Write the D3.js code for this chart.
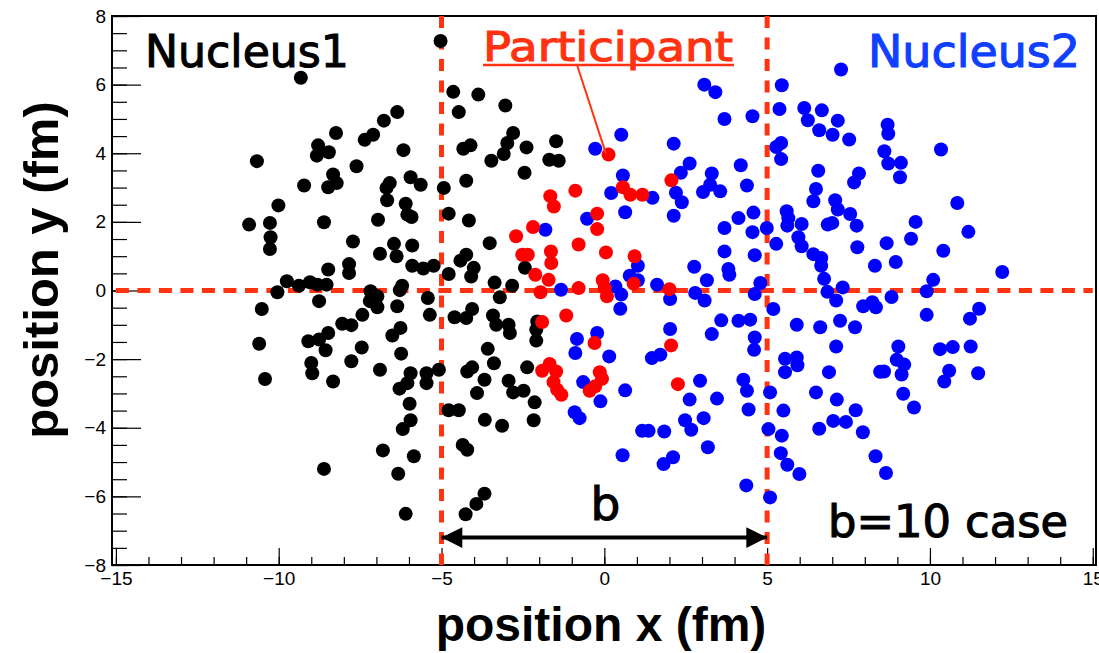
<!DOCTYPE html>
<html><head><meta charset="utf-8">
<script src="https://cdn.jsdelivr.net/npm/d3@7"></script>
<style>body{margin:0;background:#fff}svg{display:block}</style>
</head><body><svg id="c" width="1099" height="653"></svg>
<script>
// ---- data (fm) ----
const nucleus1 = [
[-5.03,7.27],[-9.32,6.20],[-4.64,5.79],[-3.87,5.71],[-4.47,5.20],[-6.36,5.20],[-6.77,4.95],[-7.10,4.54],[-7.36,4.39],[-8.24,4.59],
[-8.79,4.23],[-8.46,4.03],[-8.83,3.93],[-10.67,3.77],[-7.61,3.62],[-6.17,4.09],[-4.33,4.13],[-4.11,4.23],[-3.47,3.78],[-8.33,3.38],
[-8.22,3.13],[-8.48,3.01],[-9.22,3.06],[-5.95,3.30],[-5.64,3.08],[-6.59,3.13],[-6.69,2.99],[-4.93,2.99],[-4.24,3.20],[-3.04,5.39],
[-2.80,4.59],[-2.98,4.30],[-3.09,3.98],[-2.39,4.17],[-1.48,4.35],[-1.69,3.81],[-1.40,3.78],[-2.45,3.43],
[-10.01,2.48],[-10.91,1.92],[-10.27,1.97],[-10.25,1.55],[-10.27,1.21],[-8.61,1.99],[-6.67,2.63],[-6.10,2.53],[-6.05,2.21],[-5.92,2.14],
[-6.95,2.06],[-4.78,2.24],[-4.16,2.04],[-7.72,1.43],[-6.46,1.36],[-5.90,1.31],[-6.89,1.07],[-6.38,1.00],[-3.52,1.38],[-4.24,1.04],
[-4.42,0.87],[-4.01,0.66],[-4.09,0.41],[-4.78,0.48],[-5.90,0.72],[-5.56,0.64],[-5.24,0.72],[-7.84,0.77],[-7.84,0.51],[-8.48,0.61],
[-9.75,0.27],[-9.38,0.14],[-10.04,-0.05],[-9.04,0.24],[-8.81,0.17],[-8.53,0.17],[-8.76,-0.31],[-10.52,-0.54],[-7.18,-0.02],[-6.97,-0.17],
[-7.20,-0.31],[-6.97,-0.49],[-6.21,0.14],[-6.28,0.01],[-6.36,-0.46],[-5.42,-0.22],[-5.36,-0.71],[-7.43,-0.71],[-8.05,-0.97],[-7.77,-1.01],
[-8.48,-1.24],[-8.76,-1.43],[-9.09,-1.48],[-8.56,-1.74],[-10.60,-1.55],[-6.26,-1.09],[-6.51,-1.31],[-7.45,-1.66],[-6.24,-1.84],[-4.60,-0.78],
[-4.24,-0.80],[-4.06,-0.54],[-3.42,-0.73],[-3.32,-1.00],[-3.58,-1.70],[-3.37,0.23],
[-2.44,0.66],[-2.83,0.14],[-3.21,-0.20],[-2.94,-1.00],[-2.90,-1.24],[-2.06,-0.90],[-2.09,-1.14],[-2.09,-1.46],
[-3.39,-2.12],[-2.37,-2.24],[-2.94,-2.63],[-2.80,-2.97],[-2.48,-2.92],[-2.14,-3.26],[-2.17,-3.78],[-3.14,-3.94],
[-9.00,-2.11],[-8.97,-2.41],[-7.77,-2.06],[-10.42,-2.58],[-8.33,-2.65],[-6.89,-2.31],[-5.95,-2.41],[-6.05,-2.70],[-6.29,-2.86],[-5.46,-2.41],
[-5.46,-2.70],[-5.08,-2.31],[-4.21,-2.36],[-4.06,-2.24],[-3.68,-2.60],[-3.91,-2.99],[-5.98,-3.30],[-4.78,-3.49],[-4.47,-3.49],[-3.67,-3.77],
[-5.95,-3.78],[-6.19,-4.04],[-4.35,-4.50],[-4.21,-4.64],[-6.80,-4.66],[-5.85,-4.83],[-8.61,-5.20],[-6.33,-5.34],[-3.68,-5.92],[-3.93,-6.22],
[-4.26,-6.52],[-6.10,-6.51]
];
const nucleus2 = [
[3.07,6.00],[3.41,5.78],[3.69,5.00],[4.55,5.08],[0.52,4.54],[-0.28,4.13],[2.13,4.28],[2.62,3.70],[2.35,3.43],[3.30,3.41],
[4.19,3.65],[4.38,3.06],[0.57,3.35],[3.25,3.08],[3.56,2.89],[3.03,2.87],[2.20,2.85],[0.21,2.84],[1.48,2.70],
[7.27,6.44],[5.45,5.98],[5.38,5.29],[6.14,5.32],[6.68,5.25],[6.25,4.96],[7.17,4.95],[6.60,4.67],[7.01,4.54],[7.52,4.40],
[8.70,4.83],[8.72,4.57],[5.43,4.30],[5.28,4.18],[5.43,3.83],[8.60,4.06],[8.72,3.70],[9.11,3.72],[9.08,3.30],[10.34,4.11],
[6.57,3.49],[7.82,3.41],[7.67,3.15],[6.50,2.96],
[-1.81,1.77],[-0.53,2.09],[0.64,2.28],[2.13,2.18],[2.38,2.57],[4.12,2.11],[3.69,1.82],[4.58,2.27],[4.55,1.70],[3.69,1.14],
[3.81,0.63],[3.84,0.46],[2.76,0.69],[3.15,0.30],[2.79,-0.07],[3.08,-0.29],[1.03,0.72],[0.78,0.43],[1.03,0.30],[0.34,0.12],
[0.52,-0.12],[0.49,-0.53],[1.62,0.17],[2.02,-0.25],[-1.33,0.02],[4.62,1.03],[4.62,-0.10],[3.59,-0.87],[4.12,-0.88],[4.48,-0.85],
[3.30,-1.27],[4.62,-1.37],[4.60,-1.73],[2.02,-1.12],[-0.22,-1.24],[-0.84,-1.41],[-0.89,-1.82],[0.15,-1.92],[1.46,-1.97],[1.72,-1.87],
[4.99,1.82],[5.60,2.31],[5.65,2.11],[5.62,1.89],[6.06,1.94],[6.42,2.60],[7.09,2.63],[7.17,2.36],[7.55,2.23],[6.86,1.92],
[7.00,1.97],[7.75,1.89],[5.96,1.55],[6.06,1.29],[5.28,1.36],[6.42,1.06],[6.66,0.95],[6.66,0.72],[6.75,0.34],[6.85,-0.04],
[7.12,-0.29],[7.32,0.09],[7.77,1.26],[8.31,0.72],[8.67,1.38],[8.95,0.83],[9.42,1.51],[9.56,2.00],[10.84,2.55],[11.18,1.71],
[10.41,1.16],[12.22,0.54],[10.10,0.31],[9.90,-0.02],[8.82,-0.19],[7.95,-0.46],[8.23,-0.34],[8.34,-0.49],[9.90,-0.71],[11.23,-0.82],
[11.51,-0.53],[4.79,0.22],[5.19,-0.54],[5.91,-1.00],[6.63,-1.07],[7.24,-0.88],[7.70,-1.07],[7.12,-1.63],[9.03,-1.63],[10.31,-1.71],
[10.70,-1.65],[11.25,-1.63],[5.55,-1.99],[5.91,-1.95],
[5.93,-2.18],[5.55,-2.38],[6.90,-2.38],[8.47,-2.37],[8.59,-2.36],[8.98,-2.02],[9.21,-2.16],[9.13,-2.45],[10.59,-2.34],[10.44,-2.65],
[11.48,-2.41],[5.09,-2.97],[6.50,-2.97],[7.14,-3.18],[9.18,-3.01],[9.51,-3.41],[5.50,-3.50],[7.72,-3.49],[7.03,-3.80],[7.42,-3.83],
[6.60,-4.03],[7.94,-4.13],[5.04,-4.04],[5.45,-4.23],[5.42,-4.74],[5.62,-5.08],[5.99,-5.35],[8.33,-4.83],[8.65,-5.32],[5.09,-6.03],
[-0.65,-2.67],[-0.12,-3.23],[-0.91,-3.55],[-0.76,-3.72],[0.64,-2.91],[2.94,-2.63],[2.62,-3.18],[3.46,-3.15],[3.05,-3.72],[2.48,-3.78],
[2.67,-4.06],[1.16,-4.09],[1.36,-4.09],[1.84,-4.11],[3.18,-4.57],[2.11,-4.86],[1.82,-5.06],[0.56,-4.80],[4.27,-2.60],[4.38,-2.92],
[4.43,-3.47],[4.36,-5.68]
];
const participant = [
[0.13,3.96],[2.06,3.21],[0.57,3.01],[0.80,2.79],[1.17,2.79],[-0.89,2.91],[-1.66,2.75],[-1.55,2.45],[-0.22,2.24],[-0.22,1.79],
[-2.19,1.85],[-2.71,1.58],[-0.79,1.34],[-1.64,1.14],[-1.63,0.80],[-2.52,1.04],[-2.35,1.04],[-2.12,0.46],[-1.71,0.31],[-1.96,-0.05],
[0.05,1.11],[0.93,1.00],[-0.79,0.07],[-0.05,0.30],[0.01,0.07],[0.08,-0.17],[0.90,0.20],[2.00,0.04],[-1.17,-0.73],[-1.91,-0.92],
[-0.30,-1.53],[2.05,-1.60],[-1.91,-2.34],[-1.68,-2.14],[-1.48,-2.36],[-1.56,-2.67],[-1.45,-2.89],[-1.32,-3.04],[-0.14,-2.38],[-0.07,-2.57],
[-0.28,-2.79],[-0.45,-2.92],[2.26,-2.73]
];
const xLabelTicks = [-15,-10,-5,0,5,10,15];
const yLabelTicks = [-8,-6,-4,-2,0,2,4,6,8];
const nucleusCenters = [-5, 5];     // x positions of the two nuclei (impact parameter b = 10)
const arrowY = -7.2;
const leader = [[-0.83,6.55],[0.05,3.99]];

// ---- scales ----
const svg = d3.select("#c");
const x = d3.scaleLinear().domain([-15.12, 15.1]).range([112, 1096]);
const y = d3.scaleLinear().domain([-8, 8]).range([565, 16]);
const RED = "#ff3311", TICKF = "'Liberation Sans', Arial, Helvetica, sans-serif", ANN = "'DejaVu Sans', sans-serif";

// axes
const gx = svg.append("g").attr("transform", `translate(0,${y(-8)})`);
gx.call(d3.axisBottom(x).tickValues(d3.range(-15, 15.01, 1)).tickSize(-8).tickFormat(""));
gx.call(g => g.select(".domain").remove());
const gx2 = svg.append("g").attr("transform", `translate(0,${y(-8)})`);
gx2.call(d3.axisBottom(x).tickValues(xLabelTicks).tickSize(-17).tickPadding(7).tickFormat(d3.format("d")));
gx2.select(".domain").remove();
const gy = svg.append("g").attr("transform", `translate(${x.range()[0]},0)`);
gy.call(d3.axisLeft(y).tickValues(d3.range(-8, 8.01, 0.5)).tickSize(-15).tickFormat(""));
gy.select(".domain").remove();
const gy2 = svg.append("g").attr("transform", `translate(${x.range()[0]},0)`);
gy2.call(d3.axisLeft(y).tickValues(yLabelTicks).tickSize(-29).tickPadding(6).tickFormat(d3.format("d")));
gy2.select(".domain").remove();
svg.selectAll(".tick line").attr("stroke", "#000").attr("stroke-width", 1.2);
svg.selectAll(".tick text").attr("font-family", TICKF).attr("font-size", 19).attr("fill", "#000");

// frame
svg.append("rect").attr("x", 112).attr("y", 16).attr("width", 1096 - 112).attr("height", 565 - 16)
  .attr("fill", "none").attr("stroke", "#000").attr("stroke-width", 2);

// axis titles
svg.append("text").attr("x", 601).attr("y", 641).attr("text-anchor", "middle")
  .attr("font-family", TICKF).attr("font-weight", "bold").attr("font-size", 48).text("position x (fm)");
svg.append("text").attr("transform", "translate(58,270) rotate(-90)").attr("text-anchor", "middle")
  .attr("font-family", TICKF).attr("font-weight", "bold").attr("font-size", 49).text("position y (fm)");

// dashed guide lines
svg.append("line").attr("x1", x(-15)).attr("x2", x(15)).attr("y1", y(0)).attr("y2", y(0))
  .attr("stroke", RED).attr("stroke-width", 5).attr("stroke-dasharray", "13 8.5");
svg.selectAll(".vdash").data(nucleusCenters).join("line").attr("class", "vdash")
  .attr("x1", d => x(d)).attr("x2", d => x(d)).attr("y1", y(8)).attr("y2", y(-8))
  .attr("stroke", RED).attr("stroke-width", 5).attr("stroke-dasharray", "12 9.5");

// points
function dots(data, color) {
  svg.append("g").selectAll("circle").data(data).join("circle")
    .attr("cx", d => x(d[0])).attr("cy", d => y(d[1])).attr("r", 7).attr("fill", color);
}
dots(nucleus1, "#000000");
dots(nucleus2, "#0000ff");
dots(participant, "#ff0000");

// arrow for b
const defs = svg.append("defs");
["s", "e"].forEach(k => {
  defs.append("marker").attr("id", "ah" + k).attr("viewBox", "0 0 10 10").attr("refX", 10).attr("refY", 5)
    .attr("markerWidth", 6).attr("markerHeight", 5.2).attr("markerUnits", "strokeWidth")
    .attr("orient", k === "s" ? "auto-start-reverse" : "auto")
    .append("path").attr("d", "M0,0 L10,5 L0,10 Z").attr("fill", "#000");
});
svg.append("line").attr("x1", x(nucleusCenters[0])).attr("x2", x(nucleusCenters[1]))
  .attr("y1", y(arrowY)).attr("y2", y(arrowY)).attr("stroke", "#000").attr("stroke-width", 4)
  .attr("marker-start", "url(#ahs)").attr("marker-end", "url(#ahe)");

// annotations (slight stroke to match the medium-weight lettering)
function ann(txt, xp, yp, size, len, color, anchor) {
  const t = svg.append("text").attr("x", xp).attr("y", yp).attr("font-family", ANN).attr("font-size", size)
    .attr("fill", color).attr("stroke", color).attr("stroke-width", 1.1).text(txt);
  if (len) t.attr("textLength", len).attr("lengthAdjust", "spacingAndGlyphs");
  if (anchor) t.attr("text-anchor", anchor);
  return t;
}
ann("b", x(0) + 1, 520, 47, null, "#000", "middle");
ann("Nucleus1", 145, 67, 45, 204, "#000");
ann("Nucleus2", 868, 67, 45, 212, "#1040ff");
ann("Participant", 483, 61, 41, 250, RED);
svg.append("line").attr("x1", 483).attr("x2", 734).attr("y1", 65).attr("y2", 65).attr("stroke", RED).attr("stroke-width", 2.5);
svg.append("line").attr("x1", x(leader[0][0])).attr("y1", y(leader[0][1])).attr("x2", x(leader[1][0])).attr("y2", y(leader[1][1]))
  .attr("stroke", RED).attr("stroke-width", 2);
ann("b=10 case", 828, 537, 44, 240, "#000");
</script></body></html>
